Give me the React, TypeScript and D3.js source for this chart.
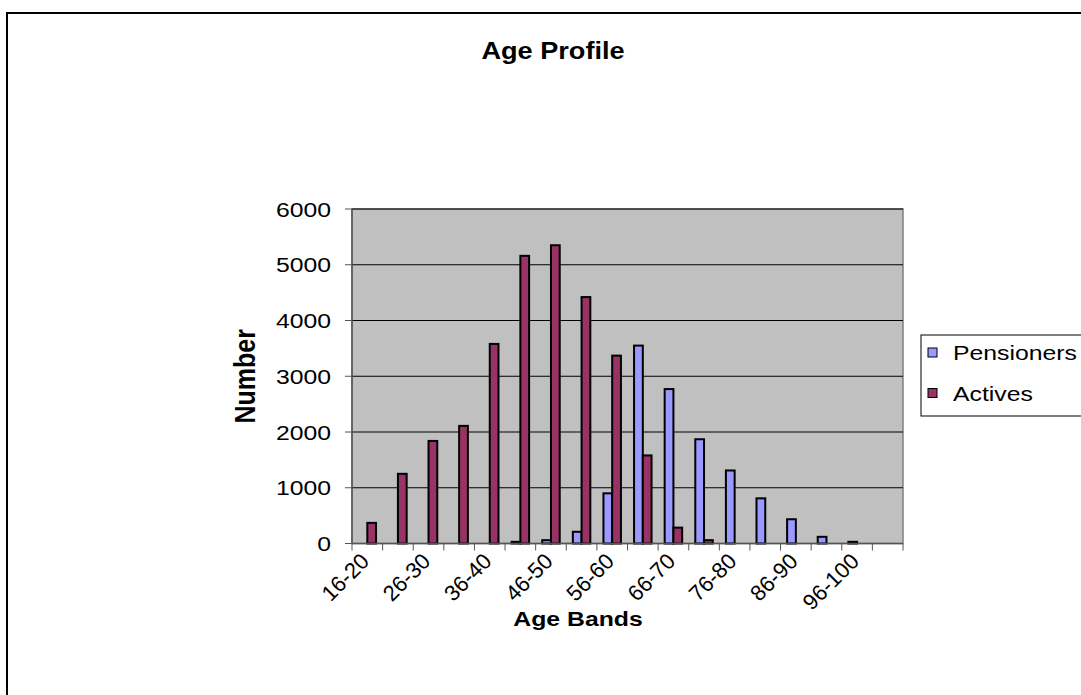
import React from "react";
import * as d3 from "d3";

// Age bands (every other band is labelled on the axis)
const categories = [
  "16-20", "21-25", "26-30", "31-35", "36-40", "41-45", "46-50", "51-55", "56-60",
  "61-65", "66-70", "71-75", "76-80", "81-85", "86-90", "91-95", "96-100", "101-105",
];
const seriesNames = ["Pensioners", "Actives"];
const pensioners = [0, 0, 0, 0, 0, 30, 60, 210, 900, 3550, 2770, 1870, 1310, 810, 435, 120, 30, 0];
const actives = [370, 1250, 1840, 2110, 3580, 5160, 5350, 4420, 3370, 1580, 285, 60, 0, 0, 0, 0, 0, 0];
const yTicks = [0, 1000, 2000, 3000, 4000, 5000, 6000];
const colors = ["#9999ff", "#993366"];

const W = 1081;
const H = 695;
const plot = { left: 352, right: 903, top: 209, bottom: 543.5 };
const FONT = "'Liberation Sans', Arial, sans-serif";
// horizontal text is drawn a little wider than tall
const SX = 1.18;

export default function App() {
  const values = [pensioners, actives];

  // Excel-style clustered columns: gap width 150% of a bar
  const x = d3
    .scaleBand<string>()
    .domain(categories)
    .range([plot.left, plot.right])
    .paddingInner(1.5 / 3.5)
    .paddingOuter(0.75 / 3.5);
  const step = x.step();
  const inner = d3.scaleBand<string>().domain(seriesNames).range([0, x.bandwidth()]);
  const y = d3.scaleLinear().domain([0, 6000]).range([plot.bottom, plot.top]);

  const bandStart = (c: string) => (x(c) as number) - (step - x.bandwidth()) / 2;
  const tickXs = categories.map(bandStart).concat([plot.right]);

  return (
    <svg
      width={W}
      height={H}
      style={{ position: "absolute", left: 0, top: 0, background: "#fff" }}
      fontFamily={FONT}
    >
      {/* chart frame */}
      <rect x={7} y={13} width={1100} height={720} fill="#fff" stroke="#000" strokeWidth={2} />

      <text transform={`translate(553,59) scale(${SX},1)`} textAnchor="middle" fontSize={23} fontWeight="bold">
        Age Profile
      </text>

      {/* plot area */}
      <rect
        x={plot.left}
        y={plot.top}
        width={plot.right - plot.left}
        height={plot.bottom - plot.top}
        fill="#c0c0c0"
        stroke="#808080"
        strokeWidth={1.5}
      />
      {yTicks.slice(1).map((t) => (
        <line key={t} x1={plot.left} x2={plot.right} y1={y(t)} y2={y(t)} stroke="#000" strokeWidth={1} />
      ))}

      {/* bars */}
      {seriesNames.map((s, si) =>
        categories.map((c, i) => {
          const v = values[si][i];
          if (!v) return null;
          const bx = (x(c) as number) + (inner(s) as number);
          return (
            <rect
              key={s + c}
              x={bx}
              y={y(v)}
              width={inner.bandwidth()}
              height={plot.bottom - y(v)}
              fill={colors[si]}
              stroke="#000"
              strokeWidth={2}
            />
          );
        })
      )}

      {/* y axis */}
      <line x1={plot.left} x2={plot.left} y1={plot.top} y2={plot.bottom} stroke="#555" strokeWidth={1.5} />
      {yTicks.map((t) => (
        <g key={t}>
          <line x1={plot.left - 7} x2={plot.left} y1={y(t)} y2={y(t)} stroke="#555" strokeWidth={1} />
          <text
            transform={`translate(331,${y(t)}) scale(${SX},1)`}
            dy="0.36em"
            textAnchor="end"
            fontSize={21}
          >
            {t}
          </text>
        </g>
      ))}

      {/* x axis */}
      <line x1={plot.left} x2={plot.right} y1={plot.bottom} y2={plot.bottom} stroke="#555" strokeWidth={1.5} />
      {tickXs.map((tx, i) => (
        <line key={i} x1={tx} x2={tx} y1={plot.bottom} y2={plot.bottom + 7} stroke="#555" strokeWidth={1} />
      ))}
      {categories.map((c, i) =>
        i % 2 === 0 ? (
          <text
            key={c}
            transform={`translate(${bandStart(c) + step / 2 - 8},${plot.bottom + 8}) rotate(-45)`}
            textAnchor="end"
            dy="0.72em"
            fontSize={22}
          >
            {c}
          </text>
        ) : null
      )}

      <text transform={`translate(578,626) scale(${SX},1)`} textAnchor="middle" fontSize={21} fontWeight="bold">
        Age Bands
      </text>
      <text
        transform={`translate(255,${(plot.top + plot.bottom) / 2}) scale(${SX},1) rotate(-90)`}
        textAnchor="middle"
        fontSize={25}
        fontWeight="bold"
      >
        Number
      </text>

      {/* legend */}
      <rect x={921} y={335} width={200} height={81} fill="#fff" stroke="#000" strokeWidth={1} />
      {seriesNames.map((s, i) => (
        <g key={s} transform={`translate(0,${i * 40.5})`}>
          <rect x={928} y={348} width={9} height={9} fill={colors[i]} stroke="#000" strokeWidth={1} />
          <text transform={`translate(953,360) scale(${SX},1)`} fontSize={21}>
            {s}
          </text>
        </g>
      ))}
    </svg>
  );
}
